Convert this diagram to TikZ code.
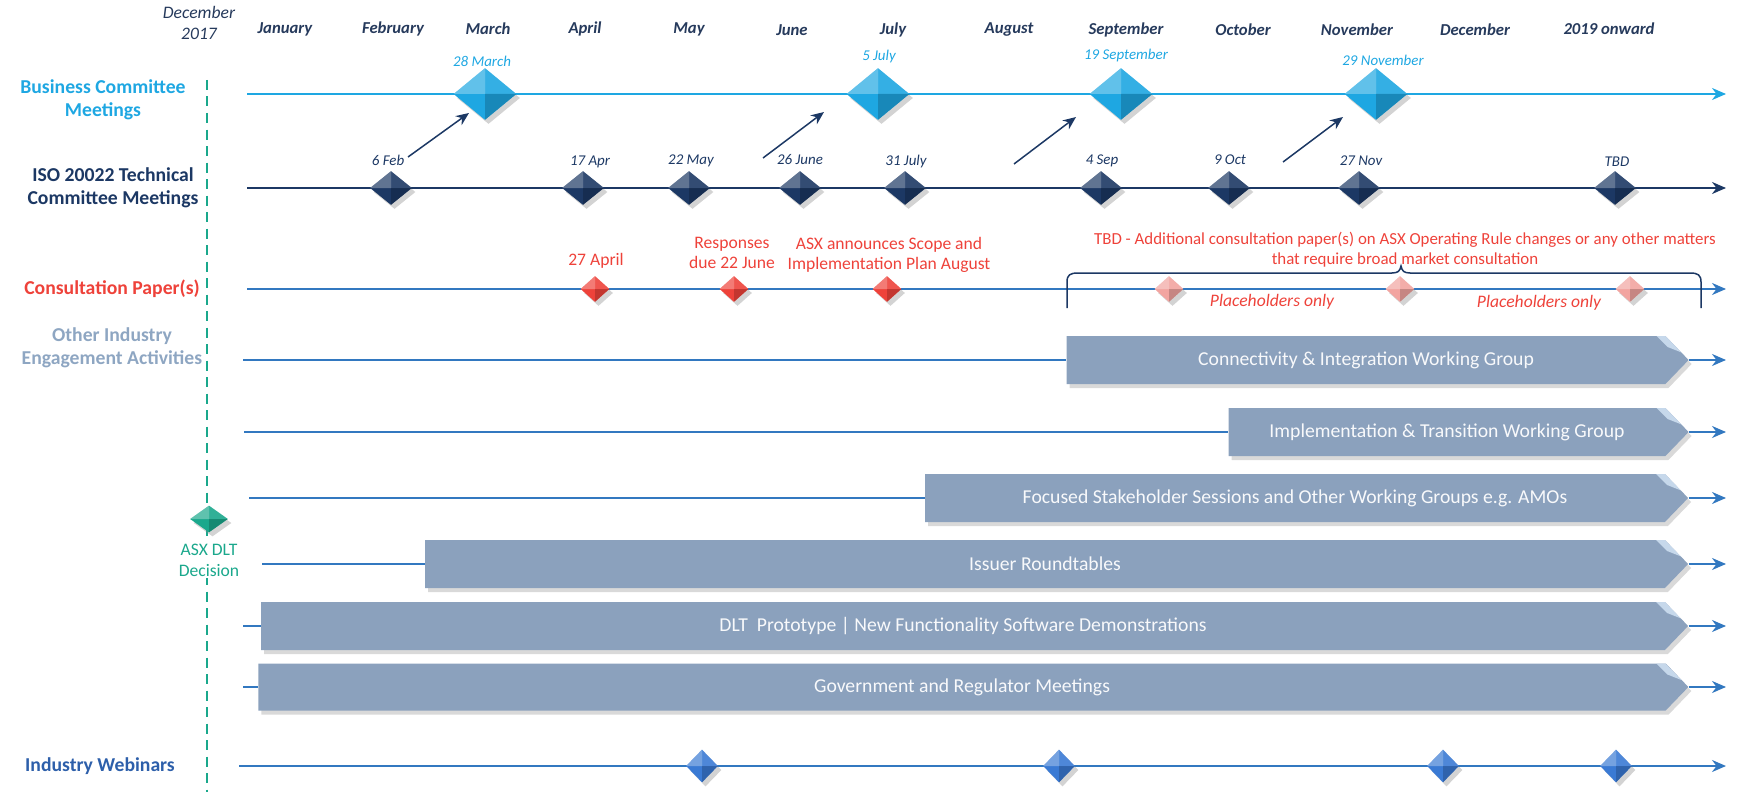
\documentclass[tikz,border=0pt]{standalone}
\usepackage{fontspec}
\setmainfont{Carlito}
\usetikzlibrary{shapes.geometric,shapes.symbols,shadows,arrows.meta}

\definecolor{bcblue}{RGB}{30,167,226}
\definecolor{isonavy}{RGB}{28,56,100}
\definecolor{cpred}{RGB}{238,66,58}
\definecolor{cppink}{RGB}{242,164,160}
\definecolor{oiegrey}{RGB}{142,166,194}
\definecolor{barfill}{RGB}{139,161,189}
\definecolor{barfold}{RGB}{205,222,240}
\definecolor{rowblue}{RGB}{50,120,192}
\definecolor{webblue}{RGB}{45,95,170}
\definecolor{webgem}{RGB}{58,122,212}
\definecolor{dltteal}{RGB}{26,168,140}
\definecolor{monthink}{RGB}{38,58,92}

\tikzset{
  gem/.style={diamond,inner sep=0pt,
    drop shadow={shadow xshift=.7mm,shadow yshift=-.8mm,opacity=.35},
    path picture={
      \fill[white,opacity=.3] (path picture bounding box.north) -- (path picture bounding box.center) -- (path picture bounding box.west) -- cycle;
      \fill[white,opacity=.1] (path picture bounding box.north) -- (path picture bounding box.center) -- (path picture bounding box.east) -- cycle;
      \fill[black,opacity=.18] (path picture bounding box.south) -- (path picture bounding box.center) -- (path picture bounding box.east) -- cycle;}},
  bcgem/.style={gem,fill=bcblue,minimum width=12.6mm,minimum height=10.4mm},
  isogem/.style={gem,fill=isonavy,minimum width=8.4mm,minimum height=6.8mm},
  cpgem/.style={gem,fill=cpred,minimum width=5.8mm,minimum height=5.2mm},
  phgem/.style={gem,fill=cppink,minimum width=5.8mm,minimum height=5.2mm},
  webgemstyle/.style={gem,fill=webgem,minimum width=6.4mm,minimum height=6.6mm},
  dltgem/.style={gem,fill=dltteal,minimum width=7.6mm,minimum height=5.4mm},
  month/.style={font=\fontsize{9.5}{11}\selectfont\bfseries\itshape,text=monthink},
  bcdate/.style={font=\fontsize{8.5}{10}\selectfont\itshape,text=bcblue},
  isodate/.style={font=\fontsize{8.5}{10}\selectfont\itshape,text=isonavy},
  rowlabel/.style={font=\fontsize{11.2}{13}\selectfont\bfseries,align=center},
  cptext/.style={font=\fontsize{10}{11.5}\selectfont,text=cpred,align=center},
  bar/.style={signal,signal to=east,signal pointer angle=92,fill=barfill,
    minimum height=9.6mm,inner sep=0pt,text=white!94!barfill,font=\fontsize{11.2}{13}\selectfont,
    drop shadow={shadow xshift=.6mm,shadow yshift=-.8mm,opacity=.3},
    path picture={
      \fill[barfold,opacity=.9] ([xshift=-6.4mm]path picture bounding box.north east) -- ([xshift=-4.6mm]path picture bounding box.north east) -- ([xshift=-1.4mm,yshift=-3.3mm]path picture bounding box.north east) -- ([xshift=-4.2mm,yshift=-2.2mm]path picture bounding box.north east) -- cycle;}},
  rowline/.style={rowblue,line width=.4mm},
  endarrow/.style={-{Stealth[length=2.8mm,width=2.4mm]}},
  linkarrow/.style={isonavy,line width=.3mm,-{Stealth[length=2.6mm,width=2.2mm]}}
}

\begin{document}
\begin{tikzpicture}[x=0.2mm,y=-0.2mm]
  \useasboundingbox (0,0) rectangle (1738,792);

  % months
  \node[font=\fontsize{10}{11.5}\selectfont\itshape,text=monthink,align=center] (m-0) at (199,23) {December\\2017};
  \node[month] (m-1) at (285,29) {January};
  \node[month] (m-2) at (393,29) {February};
  \node[month] (m-3) at (488,29) {March};
  \node[month] (m-4) at (585,29) {April};
  \node[month] (m-5) at (689,29) {May};
  \node[month] (m-6) at (792,30) {June};
  \node[month] (m-7) at (893,30) {July};
  \node[month] (m-8) at (1009,29) {August};
  \node[month] (m-9) at (1126,30) {September};
  \node[month] (m-10) at (1243,30) {October};
  \node[month] (m-11) at (1357,30) {November};
  \node[month] (m-12) at (1475,30) {December};
  \node[month] (m-13) at (1609,29) {2019 onward};

  % row labels
  \node[rowlabel,text=bcblue] (l-bc) at (103,100) {Business Committee\\Meetings};
  \node[rowlabel,text=isonavy] (l-iso) at (113,188) {ISO 20022 Technical\\Committee Meetings};
  \node[rowlabel,text=cpred] (l-cp) at (112,289) {Consultation Paper(s)};
  \node[rowlabel,text=oiegrey] (l-oie) at (112,348) {Other Industry\\Engagement Activities};
  \node[rowlabel,text=webblue] (l-web) at (100,766) {Industry Webinars};

  % ASX DLT decision
  \coordinate (dlt-top) at (207,80);
  \coordinate (dlt-bot) at (207,792);
  \draw[dltteal,line width=.55mm,dash pattern=on 2mm off 1.3mm] (dlt-top) -- (dlt-bot);
  \node[font=\fontsize{10}{12}\selectfont,text=dltteal,align=center,fill=white,inner sep=1pt] (dlt-txt) at (209,560) {ASX DLT\\Decision};
  \node[dltgem] (dlt) at (209,519) {};

  % business committee
  \coordinate (bc-s) at (247,94);
  \coordinate (bc-e) at (1726,94);
  \draw[bcblue,line width=.45mm,endarrow] (bc-s) -- (bc-e);
  \node[bcgem] (bc-1) at (485,94) {};
  \node[bcgem] (bc-2) at (878,94) {};
  \node[bcgem] (bc-3) at (1121,94) {};
  \node[bcgem] (bc-4) at (1376,94) {};
  \node[bcdate] (bcd-1) at (482,61) {28 March};
  \node[bcdate] (bcd-2) at (879,57) {5 July};
  \node[bcdate] (bcd-3) at (1126,56) {19 September};
  \node[bcdate] (bcd-4) at (1383,60) {29 November};

  % iso 20022 technical committee
  \coordinate (iso-s) at (247,188);
  \coordinate (iso-e) at (1726,188);
  \draw[isonavy,line width=.4mm,endarrow] (iso-s) -- (iso-e);
  \node[isogem] (iso-1) at (391,188) {};
  \node[isogem] (iso-2) at (583,188) {};
  \node[isogem] (iso-3) at (689,188) {};
  \node[isogem] (iso-4) at (800,188) {};
  \node[isogem] (iso-5) at (905,188) {};
  \node[isogem] (iso-6) at (1101,188) {};
  \node[isogem] (iso-7) at (1229,188) {};
  \node[isogem] (iso-8) at (1359,188) {};
  \node[isogem] (iso-9) at (1615,188) {};
  \node[isodate] (isod-1) at (388,160) {6 Feb};
  \node[isodate] (isod-2) at (590,162) {17 Apr};
  \node[isodate] (isod-3) at (691,161) {22 May};
  \node[isodate] (isod-4) at (800,160) {26 June};
  \node[isodate] (isod-5) at (906,162) {31 July};
  \node[isodate] (isod-6) at (1102,161) {4 Sep};
  \node[isodate] (isod-7) at (1230,160) {9 Oct};
  \node[isodate] (isod-8) at (1361,161) {27 Nov};
  \node[isodate] (isod-9) at (1617,162) {TBD};

  \coordinate (up-1s) at (408,157); \coordinate (up-1e) at (469,113);
  \coordinate (up-2s) at (763,158); \coordinate (up-2e) at (824,112);
  \coordinate (up-3s) at (1014,164); \coordinate (up-3e) at (1076,117);
  \coordinate (up-4s) at (1283,162); \coordinate (up-4e) at (1343,117);
  \draw[linkarrow] (up-1s) -- (up-1e);
  \draw[linkarrow] (up-2s) -- (up-2e);
  \draw[linkarrow] (up-3s) -- (up-3e);
  \draw[linkarrow] (up-4s) -- (up-4e);

  % consultation papers
  \coordinate (cp-s) at (247,289);
  \coordinate (cp-e) at (1726,289);
  \draw[rowline,endarrow] (cp-s) -- (cp-e);
  \draw[isonavy,line width=.3mm] (1067,308) -- (1067,282) .. controls (1067,275) and (1070,273) .. (1078,273) -- (1392,273) .. controls (1398,273) and (1400,271) .. (1401,266) .. controls (1402,271) and (1404,273) .. (1410,273) -- (1690,273) .. controls (1698,273) and (1701,275) .. (1701,282) -- (1701,308);
  \node[cpgem] (cp-1) at (595,289) {};
  \node[cpgem] (cp-2) at (734,289) {};
  \node[cpgem] (cp-3) at (887,289) {};
  \node[phgem] (ph-1) at (1169,289) {};
  \node[phgem] (ph-2) at (1400,289) {};
  \node[phgem] (ph-3) at (1630,289) {};
  \node[cptext] (cpt-1) at (596,261) {27 April};
  \node[cptext] (cpt-2) at (732,253) {Responses\\due 22 June};
  \node[cptext] (cpt-3) at (889,255) {ASX announces Scope and\\Implementation Plan August};
  \node[cptext,font=\fontsize{9.6}{11.5}\selectfont] (cpt-4) at (1405,250) {TBD - Additional consultation paper(s) on ASX Operating Rule changes or any other matters\\that require broad market consultation};
  \node[cptext,font=\fontsize{10}{12}\selectfont\itshape] (cpt-5) at (1272,302) {Placeholders only};
  \node[cptext,font=\fontsize{10}{12}\selectfont\itshape] (cpt-6) at (1539,303) {Placeholders only};

  % other industry engagement activities
  \node[bar,minimum width=124.4mm] (bar-1) at (1366,360) {Connectivity \& Integration Working Group};
  \node[bar,minimum width=92mm] (bar-2) at (1447,432) {Implementation \& Transition Working Group};
  \node[bar,minimum width=152.6mm] (bar-3) at (1295,498) {Focused Stakeholder Sessions and Other Working Groups e.g. AMOs};
  \node[bar,minimum width=252.6mm] (bar-4) at (1045,564) {Issuer Roundtables};
  \node[bar,minimum width=285.4mm] (bar-5) at (963,626) {DLT\ \ Prototype | New Functionality Software Demonstrations};
  \node[bar,minimum width=286mm,minimum height=9.4mm] (bar-6) at (962,687) {Government and Regulator Meetings};

  \coordinate (oie-1s) at (243,360); \coordinate (oie-1e) at (1726,360);
  \coordinate (oie-2s) at (244,432); \coordinate (oie-2e) at (1726,432);
  \coordinate (oie-3s) at (249,498); \coordinate (oie-3e) at (1726,498);
  \coordinate (oie-4s) at (262,564); \coordinate (oie-4e) at (1726,564);
  \coordinate (oie-5s) at (243,626); \coordinate (oie-5e) at (1726,626);
  \coordinate (oie-6s) at (243,687); \coordinate (oie-6e) at (1726,687);
  \draw[rowline] (oie-1s) -- (bar-1.west); \draw[rowline,endarrow] (bar-1.east) -- (oie-1e);
  \draw[rowline] (oie-2s) -- (bar-2.west); \draw[rowline,endarrow] (bar-2.east) -- (oie-2e);
  \draw[rowline] (oie-3s) -- (bar-3.west); \draw[rowline,endarrow] (bar-3.east) -- (oie-3e);
  \draw[rowline] (oie-4s) -- (bar-4.west); \draw[rowline,endarrow] (bar-4.east) -- (oie-4e);
  \draw[rowline] (oie-5s) -- (bar-5.west); \draw[rowline,endarrow] (bar-5.east) -- (oie-5e);
  \draw[rowline] (oie-6s) -- (bar-6.west); \draw[rowline,endarrow] (bar-6.east) -- (oie-6e);

  % industry webinars
  \coordinate (web-s) at (239,766);
  \coordinate (web-e) at (1726,766);
  \draw[rowline,endarrow] (web-s) -- (web-e);
  \node[webgemstyle] (web-1) at (702,766) {};
  \node[webgemstyle] (web-2) at (1059,766) {};
  \node[webgemstyle] (web-3) at (1443,766) {};
  \node[webgemstyle] (web-4) at (1616,766) {};

\end{tikzpicture}
\end{document}
